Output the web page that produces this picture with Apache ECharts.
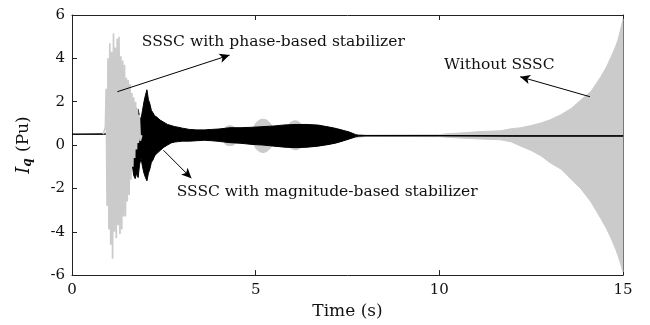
<!DOCTYPE html>
<html>
<head>
<meta charset="utf-8">
<script src="https://cdn.jsdelivr.net/npm/echarts@6/dist/echarts.min.js"></script>
<style>html,body{margin:0;padding:0;background:#fff}#c{width:650px;height:325px}</style>
</head>
<body>
<div id="c"></div>
<script>
// ---- data ----
const xTicks = [0, 5, 10, 15];
const yTicks = [-6, -4, -2, 0, 2, 4, 6];

// SSSC with phase-based stabilizer: early burst (individual spikes)
const burstT = [0.85, 0.88, 0.91, 0.93, 0.955, 0.98, 1.005, 1.03, 1.055, 1.08, 1.105, 1.13, 1.155, 1.18, 1.205, 1.23, 1.255, 1.28, 1.305, 1.33, 1.355, 1.38, 1.405, 1.43, 1.455, 1.48, 1.505, 1.53, 1.555, 1.58, 1.605, 1.63, 1.655, 1.68, 1.705, 1.73, 1.755, 1.78, 1.805, 1.83, 1.86, 1.9];
const burstV = [0.5, 0.58, 0.85, 2.6, -2.8, 4.0, -3.9, 4.7, -4.6, 4.3, -5.24, 5.15, -4.0, 4.5, -4.3, 4.9, -3.7, 5.0, -4.1, 4.1, -3.9, 3.9, -3.3, 3.7, -3.3, 3.1, -2.6, 3.0, -2.3, 2.8, -1.6, 2.4, -1.0, 2.2, -0.6, 2.0, -0.2, 1.7, 0.1, 1.4, 0.2, 0.45];

// light grey envelope (phase-based after burst + without SSSC)
const grayT  = [1.8, 2.5, 3.5, 4.1, 4.2, 4.3, 4.4, 4.5, 4.9, 5.0, 5.1, 5.2, 5.3, 5.4, 5.5, 5.85, 5.95, 6.05, 6.15, 6.25, 6.35, 7.0, 8.0, 10.0, 10.2, 10.6, 11.1, 11.68, 11.95, 12.22, 12.5, 12.77, 13.0, 13.31, 13.6, 13.86, 14.13, 14.4, 14.55, 14.68, 14.8, 14.86, 14.93, 15];
const grayHi = [0.8, 0.6, 0.6, 0.65, 0.85, 0.9, 0.85, 0.65, 0.7, 1.0, 1.15, 1.2, 1.15, 1.0, 0.7, 0.8, 1.05, 1.12, 1.1, 0.95, 0.8, 0.6, 0.46, 0.47, 0.52, 0.56, 0.62, 0.66, 0.75, 0.8, 0.9, 1.02, 1.15, 1.4, 1.7, 2.09, 2.47, 3.16, 3.6, 4.08, 4.55, 4.84, 5.3, 5.8];
const grayLo = [0.2, 0.3, 0.3, 0.2, 0.0, -0.03, 0.0, 0.2, 0.2, -0.15, -0.3, -0.35, -0.3, -0.15, 0.1, 0.0, -0.15, -0.22, -0.2, -0.1, 0.0, 0.2, 0.4, 0.39, 0.36, 0.32, 0.28, 0.24, 0.15, -0.05, -0.25, -0.5, -0.8, -1.11, -1.6, -2.03, -2.63, -3.4, -3.85, -4.32, -4.8, -5.08, -5.45, -5.85];

// SSSC with magnitude-based stabilizer (black envelope)
const magT  = [0, 1.2, 1.45, 1.52, 1.56, 1.6, 1.64, 1.68, 1.72, 1.76, 1.8, 1.84, 1.88, 1.92, 1.96, 2.0, 2.04, 2.08, 2.12, 2.16, 2.2, 2.25, 2.3, 2.4, 2.5, 2.6, 2.7, 2.8, 2.9, 3.0, 3.2, 3.4, 3.6, 3.8, 4.0, 4.3, 4.6, 4.9, 5.2, 5.5, 5.8, 6.1, 6.4, 6.7, 7.0, 7.2, 7.4, 7.55, 7.65, 7.72, 7.8, 8, 10, 12, 15];
const magHi = [0.5, 0.52, 0.56, 0.55, 0.5, 1.2, 1.75, 1.6, 1.85, 1.5, 1.65, 1.3, 1.2, 1.6, 2.0, 2.3, 2.55, 2.1, 1.9, 1.6, 1.5, 1.35, 1.3, 1.15, 1.05, 0.95, 0.9, 0.85, 0.82, 0.78, 0.72, 0.7, 0.7, 0.72, 0.74, 0.8, 0.8, 0.82, 0.85, 0.88, 0.93, 0.95, 0.95, 0.92, 0.83, 0.76, 0.67, 0.6, 0.53, 0.48, 0.45, 0.44, 0.44, 0.43, 0.43];
const magLo = [0.5, 0.5, 0.52, 0.5, 0.1, -0.3, -0.9, -1.4, -1.55, -1.3, -1.5, -0.9, -0.6, -1.0, -1.3, -1.5, -1.65, -1.3, -1.1, -0.8, -0.7, -0.5, -0.4, -0.25, -0.1, 0.0, 0.1, 0.14, 0.16, 0.18, 0.18, 0.2, 0.22, 0.2, 0.17, 0.11, 0.08, 0.03, 0.0, -0.05, -0.1, -0.12, -0.1, -0.05, 0.03, 0.1, 0.2, 0.28, 0.34, 0.38, 0.41, 0.42, 0.42, 0.41, 0.41];

// annotations (data coordinates)
const arrows = [
  {from: [1.235, 2.46], to: [4.29, 4.15]},
  {from: [14.1, 2.23], to: [12.2, 3.15]},
  {from: [2.49, -0.24], to: [3.25, -1.53]}
];
const notes = [
  {text: 'SSSC with phase-based stabilizer', at: [1.9, 4.75]},
  {text: 'Without SSSC', at: [10.13, 3.7]},
  {text: 'SSSC with magnitude-based stabilizer', at: [2.85, -2.17]}
];

const GRAY = '#cbcbcb';
const FONT = 'DejaVu Serif';

function band(name, T, HI, LO, color) {
  return {
    type: 'custom', name: name, coordinateSystem: 'cartesian2d',
    dimensions: ['t', 'v'], encode: {x: 0, y: 1},
    data: [[T[0], HI[0]]], silent: true, animation: false,
    renderItem: function (params, api) {
      const pts = [];
      for (let i = 0; i < T.length; i++) pts.push(api.coord([T[i], HI[i]]));
      for (let i = T.length - 1; i >= 0; i--) pts.push(api.coord([T[i], LO[i]]));
      return {type: 'polygon', shape: {points: pts},
        style: {fill: color, stroke: color, lineWidth: 1}};
    }
  };
}

const chart = echarts.init(document.getElementById('c'), null, {renderer: 'canvas'});
const axisCommon = {
  axisLine: {show: true, onZero: false, lineStyle: {color: '#222', width: 1}},
  axisTick: {show: true, inside: true, length: 5, lineStyle: {color: '#222'}},
  splitLine: {show: false}
};
const labelStyle = {color: '#111', fontFamily: FONT, fontSize: 15};

chart.setOption({
  animation: false,
  backgroundColor: '#fff',
  grid: {left: 72, right: 27, top: 15, bottom: 48, show: false},
  xAxis: [
    Object.assign({type: 'value', min: 0, max: 15, interval: 5, position: 'bottom',
      axisLabel: Object.assign({margin: 8, formatter: v => xTicks.includes(v) ? String(v) : ''}, labelStyle),
      name: 'Time (s)', nameLocation: 'middle', nameGap: 23,
      nameTextStyle: {fontFamily: FONT, fontSize: 17, color: '#111'}}, axisCommon),
    Object.assign({type: 'value', min: 0, max: 15, interval: 5, position: 'top',
      axisLabel: {show: false}}, axisCommon)
  ],
  yAxis: [
    Object.assign({type: 'value', min: -6, max: 6, interval: 2, position: 'left',
      axisLabel: Object.assign({margin: 7, formatter: v => yTicks.includes(v) ? String(v) : ''}, labelStyle),
      name: '{i|I}{q|q} (Pu)', nameLocation: 'middle', nameGap: 38, nameRotate: 90,
      nameTextStyle: {fontFamily: FONT, fontSize: 17, color: '#111',
        rich: {i: {fontFamily: FONT, fontSize: 18, fontStyle: 'italic', color: '#111'},
               q: {fontFamily: FONT, fontSize: 12, fontStyle: 'italic', fontWeight: 'bold', color: '#111', verticalAlign: 'bottom', padding: [8, 1, 0, 0]}}}}, axisCommon),
    Object.assign({type: 'value', min: -6, max: 6, interval: 2, position: 'right',
      axisLabel: {show: false}}, axisCommon)
  ],
  series: [
    band('Without SSSC', grayT, grayHi, grayLo, GRAY),
    {type: 'line', name: 'SSSC with phase-based stabilizer',
      data: burstT.map((t, i) => [t, burstV[i]]),
      showSymbol: false, silent: true, lineStyle: {color: GRAY, width: 1.7}},
    band('SSSC with magnitude-based stabilizer', magT, magHi, magLo, '#000'),
    {type: 'line', name: 'arrows', data: [], silent: true,
      markLine: {silent: true, animation: false, symbol: ['none', 'arrow'], symbolSize: [7, 10],
        label: {show: false}, lineStyle: {color: '#000', width: 1, type: 'solid'},
        data: arrows.map(a => [{coord: a.from}, {coord: a.to}])}}
  ]
});

const gfx = notes.map(n => {
  const p = chart.convertToPixel({xAxisIndex: 0, yAxisIndex: 0}, n.at);
  return {type: 'text', x: p[0], y: p[1], silent: true,
    style: {text: n.text, fontFamily: FONT, fontSize: 15.5, fill: '#111', textVerticalAlign: 'middle', verticalAlign: 'middle'}};
});
chart.setOption({graphic: gfx});
</script>
</body>
</html>
